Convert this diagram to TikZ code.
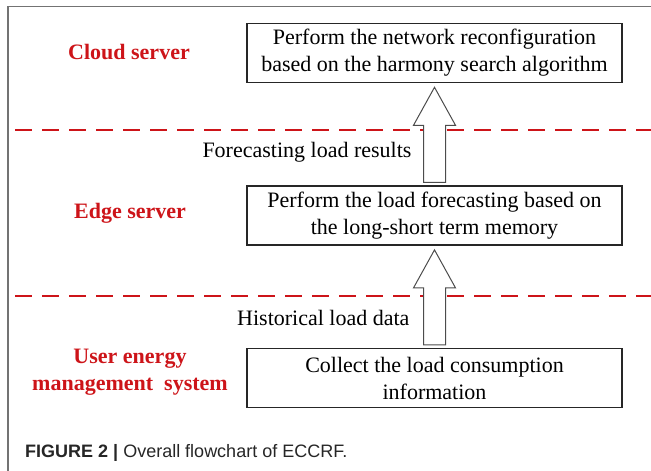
\documentclass[tikz,border=0pt]{standalone}
\usepackage{fontspec}
\setmainfont{Liberation Serif}
\setsansfont{Liberation Sans}
\usetikzlibrary{positioning,calc}
\definecolor{layerred}{RGB}{205,20,25}

\begin{document}
\begin{tikzpicture}[x=1pt, y=1pt,
        stepbox/.style={draw=black!85, line width=1.6pt, minimum width=375pt, minimum height=59pt, inner sep=0pt, align=center, font=\fontsize{22}{27}\selectfont},
        layer/.style={text=layerred, align=center, font=\bfseries\fontsize{22}{27}\selectfont},
        divider/.style={draw=layerred, line width=2pt, dash pattern=on 17pt off 10pt},
        flow/.style={draw=black!70, line width=1pt, fill=white},
        note/.style={anchor=east, font=\fontsize{22}{27}\selectfont}
    ]
        \useasboundingbox (0,0) rectangle (651,471);

        % Frame
        \draw[black!55, line width=1.4pt] (8,0) -- (8,464.5) -- (651,464.5);

        % Boxes
        \node[stepbox] (cloudbox) at (434.5,418) {Perform the network reconfiguration\\based on the harmony search algorithm};
        \node[stepbox, below=102pt of cloudbox] (edgebox) {Perform the load forecasting based on\\the long-short term memory};
        \node[stepbox, below=102pt of edgebox] (userbox) {Collect the load consumption\\information};

        % Layers
        \node[layer] (cloud) at (129,419) {Cloud server};
        \node[layer] (edge) at (130,258) {Edge server};
        \node[layer] (user) at (130,99) {User energy\\management\ \ system};

        \draw[divider] (15,341) -- (651,341);
        \draw[divider] (15,175) -- (651,175);

        % Arrows
        \foreach \lo/\hi in {edgebox/cloudbox, userbox/edgebox}
            \draw[flow] ($(\lo.north)+(-11,3)$) -- ($(\hi.south)+(-11,-42)$) -- ++(-10,0)
                -- ($(\hi.south)+(0,-4)$) -- ($(\hi.south)+(21,-42)$) -- ++(-10,0)
                -- ($(\lo.north)+(11,3)$) -- cycle;

        \node[note] (results) at (415,319) {Forecasting load results};
        \node[note] (history) at (413,153) {Historical load data};

        % Caption
        \node[anchor=base west, inner sep=0pt, text=black!85, font=\sffamily\fontsize{18}{22}\selectfont] (caption) at (25,13) {\textbf{FIGURE 2 |} Overall flowchart of ECCRF.};
    \end{tikzpicture}
\end{document}
